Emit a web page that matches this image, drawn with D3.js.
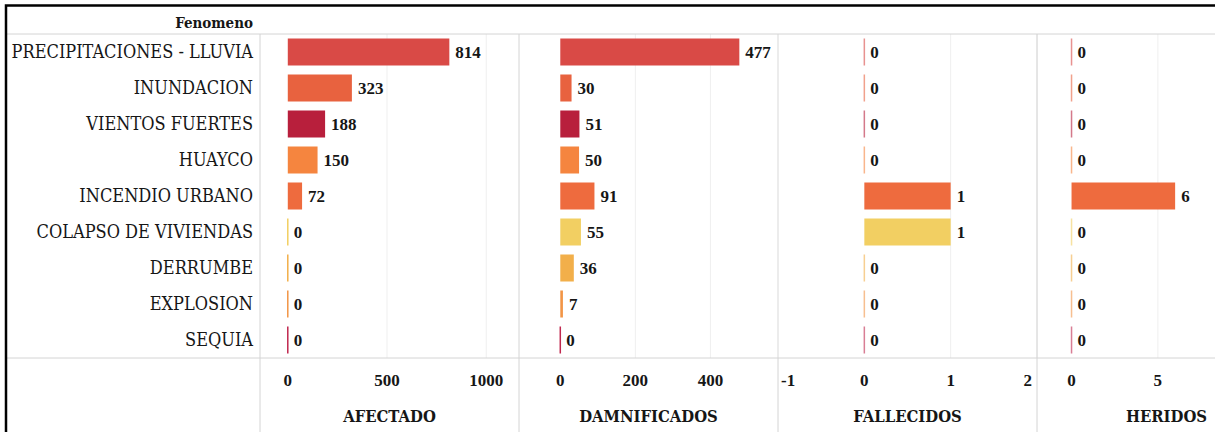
<!DOCTYPE html>
<html lang="es">
<head>
    <meta charset="UTF-8">
    <title>Fenomeno - afectados, damnificados, fallecidos, heridos</title>
    <script src="https://d3js.org/d3.v7.min.js"></script>
    <style>
        body {
            margin: 0;
            background: white;
        }
        svg text {
            font-family: "DejaVu Serif Condensed", "DejaVu Serif", serif;
            fill: #161616;
        }
        .row-label {
            font-size: 18px;
        }
        .value {
            font-family: "Liberation Serif", serif;
            font-size: 17px;
            font-weight: bold;
        }
        .tick-label {
            font-family: "Liberation Serif", serif;
            font-size: 17px;
            font-weight: bold;
        }
        .measure-title {
            font-size: 16.5px;
            font-weight: bold;
        }
        .header {
            font-size: 15px;
            font-weight: bold;
        }
        .sep {
            stroke: #d4d4d4;
            stroke-width: 1;
        }
        .grid {
            stroke: #efefef;
            stroke-width: 1;
        }
    </style>
</head>
<body>
    <svg width="1215" height="432"></svg>
    <script>
        const fenomenos = [
            "PRECIPITACIONES - LLUVIA", "INUNDACION", "VIENTOS FUERTES", "HUAYCO",
            "INCENDIO URBANO", "COLAPSO DE VIVIENDAS", "DERRUMBE", "EXPLOSION", "SEQUIA"
        ];
        const colores = [
            "#d94a46", "#e8623f", "#b81f3c", "#f5853f",
            "#ee6b3e", "#f2cf62", "#f2af4a", "#f29546", "#c0284f"
        ];
        const medidas = ["AFECTADO", "DAMNIFICADOS", "FALLECIDOS", "HERIDOS"];
        const afectado = [814, 323, 188, 150, 72, 0, 0, 0, 0];
        const damnificados = [477, 30, 51, 50, 91, 55, 36, 7, 0];
        const fallecidos = [0, 0, 0, 0, 1, 1, 0, 0, 0];
        const heridos = [0, 0, 0, 0, 6, 0, 0, 0, 0];
        const tickValues = [[0, 500, 1000], [0, 200, 400], [-1, 0, 1, 2], [0, 5]];
        const domains = [[-140, 1165], [-110, 580], [-1, 2], [-2, 13]];

        const series = [afectado, damnificados, fallecidos, heridos];

        const svg = d3.select("svg");
        const W = 1215, H = 432;
        const frame = { left: 6, top: 5.5 };
        const headerY = 34, rowsBottom = 358;
        const labelRight = 260, panelW = 259;

        const y = d3.scaleBand()
            .domain(fenomenos)
            .range([headerY, rowsBottom])
            .paddingInner(0.25)
            .paddingOuter(0.125);
        const rowCenter = d => y(d) + y.bandwidth() / 2;

        // header text
        svg.append("text")
            .attr("class", "header")
            .attr("x", labelRight - 7)
            .attr("y", 28)
            .attr("text-anchor", "end")
            .text("Fenomeno");

        // row labels
        svg.selectAll(".row-label")
            .data(fenomenos)
            .enter()
            .append("text")
            .attr("class", "row-label")
            .attr("x", labelRight - 7)
            .attr("y", d => rowCenter(d))
            .attr("dy", "0.36em")
            .attr("text-anchor", "end")
            .text(d => d);

        medidas.forEach((m, i) => {
            const x0 = labelRight + i * panelW;
            const x = d3.scaleLinear().domain(domains[i]).range([x0, x0 + panelW]);
            const g = svg.append("g");

            // gridlines
            g.selectAll(".grid")
                .data(tickValues[i].filter(t => t !== 0))
                .enter()
                .append("line")
                .attr("class", "grid")
                .attr("x1", d => x(d)).attr("x2", d => x(d))
                .attr("y1", headerY).attr("y2", rowsBottom);

            const rows = fenomenos.map((f, k) => ({ f, v: series[i][k], c: colores[k] }));

            // bars (zero values as thin line)
            g.selectAll(".bar")
                .data(rows)
                .enter()
                .append("rect")
                .attr("class", "bar")
                .attr("x", d => d.v === 0 ? x(0) - 0.75 : x(0))
                .attr("y", d => y(d.f))
                .attr("width", d => d.v === 0 ? 1.5 : x(d.v) - x(0))
                .attr("height", y.bandwidth())
                .attr("fill", d => d.c)
                .attr("opacity", d => d.v === 0 && i >= 2 ? 0.6 : 1);

            // value labels
            g.selectAll(".value")
                .data(rows)
                .enter()
                .append("text")
                .attr("class", "value")
                .attr("x", d => x(d.v) + 6)
                .attr("y", d => rowCenter(d.f))
                .attr("dy", "0.35em")
                .text(d => d.v);

            // tick labels, kept inside the panel
            g.selectAll(".tick-label")
                .data(tickValues[i])
                .enter()
                .append("text")
                .attr("class", "tick-label")
                .attr("y", 386)
                .attr("text-anchor", "middle")
                .text(d => d)
                .attr("x", function (d) {
                    const w = this.getComputedTextLength();
                    let cx = x(d);
                    cx = Math.max(cx, x0 + 3 + w / 2);
                    cx = Math.min(cx, x0 + panelW - 5 - w / 2);
                    return cx;
                });

            g.append("text")
                .attr("class", "measure-title")
                .attr("x", x0 + panelW / 2)
                .attr("y", 422)
                .attr("text-anchor", "middle")
                .text(m);

            // panel separator on the right
            g.append("line")
                .attr("class", "sep")
                .attr("x1", x0 + panelW).attr("x2", x0 + panelW)
                .attr("y1", headerY).attr("y2", H);
        });

        // table lines
        svg.append("line").attr("class", "sep")
            .attr("x1", frame.left).attr("x2", W)
            .attr("y1", headerY).attr("y2", headerY);
        svg.append("line").attr("class", "sep")
            .attr("x1", frame.left).attr("x2", W)
            .attr("y1", rowsBottom).attr("y2", rowsBottom);
        svg.append("line").attr("class", "sep")
            .attr("x1", labelRight).attr("x2", labelRight)
            .attr("y1", headerY).attr("y2", H);

        // black frame
        svg.append("path")
            .attr("d", `M${frame.left},${H} V${frame.top} H${W}`)
            .attr("fill", "none")
            .attr("stroke", "#000")
            .attr("stroke-width", 2.5);
    </script>
</body>
</html>
